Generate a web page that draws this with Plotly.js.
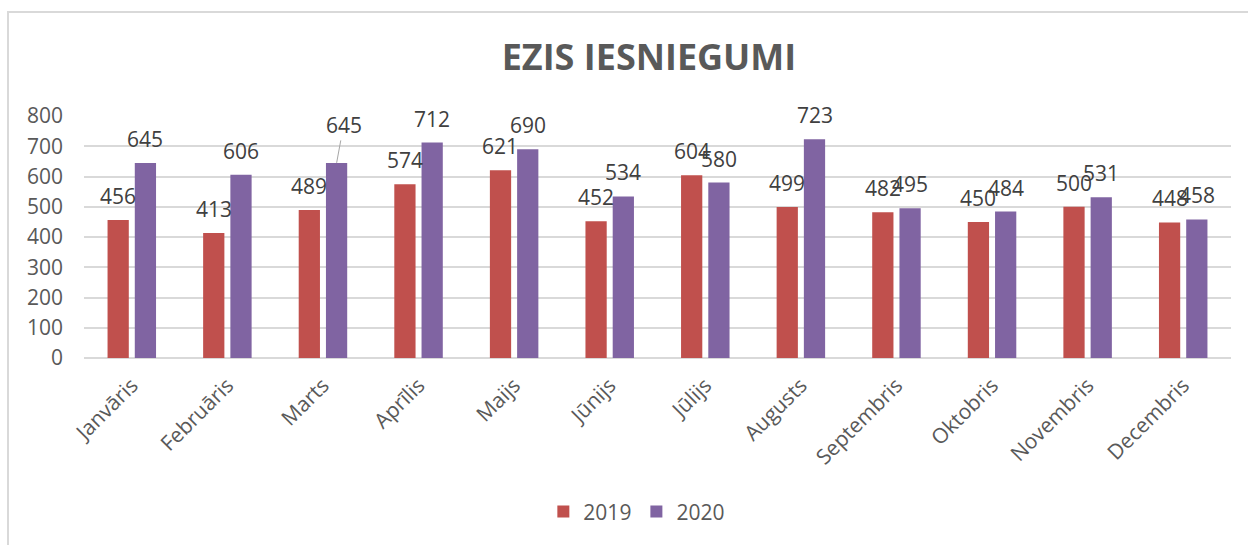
<!DOCTYPE html>
<html>
<head>
<meta charset="utf-8">
<script src="https://cdn.plot.ly/plotly-3.0.1.min.js"></script>
<style>
  html, body { margin: 0; padding: 0; background: #ffffff; }
  #frame { position: absolute; left: 7px; top: 11px; width: 1260px; height: 600px;
           border-left: 2px solid #d9d9d9; border-top: 2px solid #d9d9d9; }
  #chart { position: absolute; left: 0; top: 0; width: 1248px; height: 545px; }
</style>
</head>
<body>
<div id="frame"></div>
<div id="chart"></div>
<script>
const months = ["Janvāris", "Februāris", "Marts", "Aprīlis", "Maijs", "Jūnijs",
                "Jūlijs", "Augusts", "Septembris", "Oktobris", "Novembris", "Decembris"];
const values2019 = [456, 413, 489, 574, 621, 452, 604, 499, 482, 450, 500, 448];
const values2020 = [645, 606, 645, 712, 690, 534, 580, 723, 495, 484, 531, 458];
const seriesNames = ["2019", "2020"];
const colors = ["#C0504D", "#8064A2"];
const yTicks = [0, 100, 200, 300, 400, 500, 600, 700, 800];

const labelFont = { family: "Open Sans, sans-serif", size: 21, color: "#404040" };
const tickFont = { family: "Open Sans, sans-serif", size: 21, color: "#595959" };

const traces = [values2019, values2020].map((vals, k) => ({
  type: "bar",
  name: seriesNames[k],
  x: months,
  y: vals,
  marker: { color: colors[k] },
  hoverinfo: "x+y+name"
}));

const offset = 0.143;
const annotations = [];
[values2019, values2020].forEach((vals, k) => {
  vals.forEach((v, i) => {
    const callout = (k === 1 && i === 2);
    const a = {
      x: i + (k === 0 ? -offset : offset),
      y: v,
      xref: "x", yref: "y",
      text: String(v),
      font: labelFont,
      showarrow: false,
      xanchor: "center",
      yanchor: "bottom",
      yshift: 8
    };
    if (callout) {
      a.showarrow = true;
      a.arrowhead = 0;
      a.arrowwidth = 1;
      a.arrowcolor = "#a6a6a6";
      a.ax = 7;
      a.ay = -38;
      a.standoff = 0;
      a.yshift = 0;
      delete a.yanchor;
    }
    annotations.push(a);
  });
});

const layout = {
  width: 1248,
  height: 545,
  margin: { l: 84, r: 17, t: 116, b: 187 },
  paper_bgcolor: "rgba(0,0,0,0)",
  plot_bgcolor: "rgba(0,0,0,0)",
  title: {
    text: "<b>EZIS IESNIEGUMI</b>",
    font: { family: "Open Sans, sans-serif", size: 36, color: "#595959" },
    x: 0.52, xanchor: "center",
    y: 0.895, yref: "container", yanchor: "middle"
  },
  barmode: "group",
  bargap: 0.43,
  bargroupgap: 0.22,
  xaxis: {
    type: "category",
    tickangle: -45,
    tickfont: tickFont,
    showgrid: false,
    showline: false,
    ticks: "",
    ticklabelstandoff: 10,
    fixedrange: true
  },
  yaxis: {
    range: [0, 800],
    tickvals: yTicks,
    ticktext: yTicks.map(String),
    tickfont: tickFont,
    showgrid: true,
    gridcolor: "#d9d9d9",
    gridwidth: 1.5,
    zeroline: true,
    zerolinecolor: "#d9d9d9",
    zerolinewidth: 2,
    showline: false,
    ticks: "",
    ticklabelstandoff: 20,
    fixedrange: true
  },
  legend: {
    orientation: "h",
    x: 0.482, xanchor: "center",
    y: -0.636, yanchor: "middle",
    font: tickFont,
    itemwidth: 30,
    traceorder: "normal"
  },
  annotations: annotations,
  showlegend: true
};

Plotly.newPlot("chart", traces, layout, { displayModeBar: false, staticPlot: false });
</script>
</body>
</html>
